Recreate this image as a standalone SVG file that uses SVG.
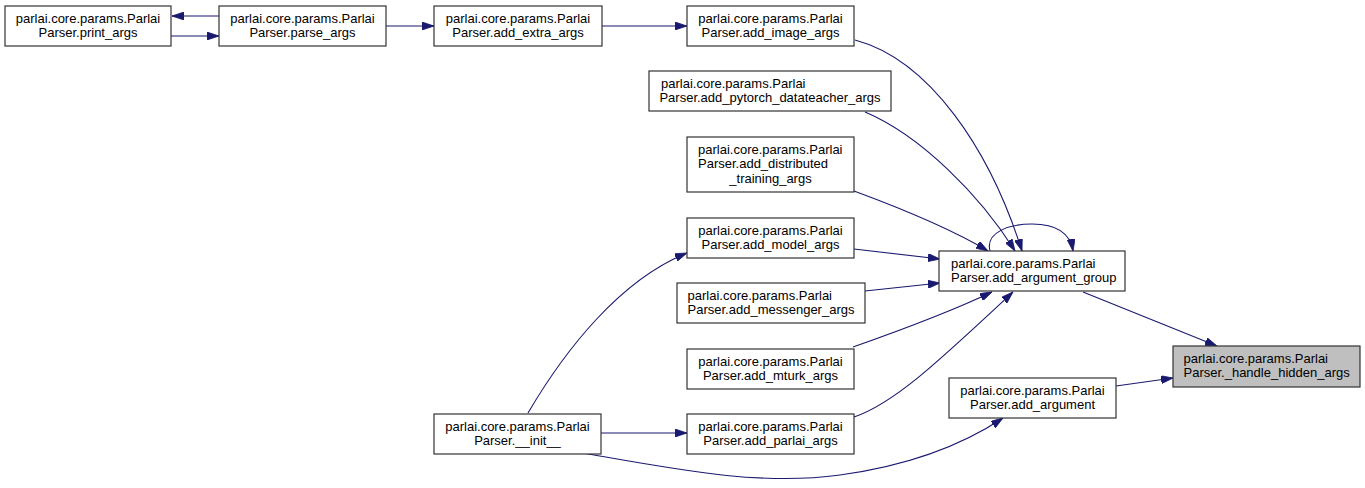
<svg xmlns="http://www.w3.org/2000/svg" width="1365" height="488" viewBox="0 0 1365 488">
<style>
.n rect{fill:#ffffff;stroke:#333333;stroke-width:1.2}
.n.hl rect{fill:#bfbfbf}
.n text{font-family:"Liberation Sans",Arial,Helvetica,sans-serif;font-size:13px;fill:#000000}
.c{text-anchor:middle}
.e path{fill:none;stroke:#191970;stroke-width:1.1;marker-end:url(#ah)}
</style>
<defs>
<marker id="ah" viewBox="0 0 12 8" refX="12" refY="4" markerWidth="12" markerHeight="8" markerUnits="userSpaceOnUse" orient="auto">
<path d="M0,0 L12,4 L0,8 z" fill="#191970" stroke="#191970" stroke-width="0.8"/>
</marker>
</defs>
<rect width="1365" height="488" fill="#ffffff"/>
<g class="e" id="connectors">
<path d="M219,16 L172,16"/>
<path d="M171,36 L219,36"/>
<path d="M386,26 L434,26"/>
<path d="M602,26 L687,26"/>
<path d="M855,40 C930,60 990,150 1022,251"/>
<path d="M865,112 C920,135 980,195 1015,251"/>
<path d="M854,191 C900,208 950,228 988,251"/>
<path d="M854,249 L940,259"/>
<path d="M865,291 L940,283"/>
<path d="M853,347 C890,334 950,312 992,292"/>
<path d="M854,417 C895,403 940,360 1013,292"/>
<path d="M990,251 C985,232 1010,224 1032,224 C1055,224 1070,232 1073,251"/>
<path d="M1083,292 L1217,346"/>
<path d="M1116,386 L1173,378"/>
<path d="M601,433 L687,433"/>
<path d="M528,413 C565,350 620,280 687,253"/>
<path d="M583,453 C680,470 760,486 840,475 C920,464 970,440 1003,418"/>
</g>
<g class="n" id="print_args"><rect x="5" y="6" width="166" height="40"/><text class="c" x="88" y="22.5">parlai.core.params.Parlai</text><text class="c" x="88" y="37">Parser.print_args</text></g>
<g class="n" id="parse_args"><rect x="219" y="6" width="167" height="40"/><text class="c" x="302.5" y="22.5">parlai.core.params.Parlai</text><text class="c" x="302.5" y="37">Parser.parse_args</text></g>
<g class="n" id="add_extra_args"><rect x="434" y="6" width="168" height="40"/><text class="c" x="518" y="22.5">parlai.core.params.Parlai</text><text class="c" x="518" y="37">Parser.add_extra_args</text></g>
<g class="n" id="add_image_args"><rect x="687" y="6" width="167" height="40"/><text class="c" x="770.5" y="22.5">parlai.core.params.Parlai</text><text class="c" x="770.5" y="37">Parser.add_image_args</text></g>
<g class="n" id="add_pytorch_datateacher_args"><rect x="649" y="71" width="242" height="40"/><text x="661" y="87.5">parlai.core.params.Parlai</text><text class="c" x="770" y="102">Parser.add_pytorch_datateacher_args</text></g>
<g class="n" id="add_distributed_training_args"><rect x="687" y="137" width="167" height="55"/><text x="698" y="153.5">parlai.core.params.Parlai</text><text x="698" y="168">Parser.add_distributed</text><text class="c" x="770.5" y="183">_training_args</text></g>
<g class="n" id="add_model_args"><rect x="687" y="218" width="167" height="40"/><text class="c" x="770.5" y="234.5">parlai.core.params.Parlai</text><text class="c" x="770.5" y="249">Parser.add_model_args</text></g>
<g class="n" id="add_messenger_args"><rect x="677" y="283" width="188" height="40"/><text x="687.5" y="299.5">parlai.core.params.Parlai</text><text class="c" x="771" y="314">Parser.add_messenger_args</text></g>
<g class="n" id="add_mturk_args"><rect x="687" y="349" width="167" height="40"/><text class="c" x="770.5" y="365.5">parlai.core.params.Parlai</text><text class="c" x="770.5" y="380">Parser.add_mturk_args</text></g>
<g class="n" id="add_parlai_args"><rect x="687" y="414" width="167" height="40"/><text class="c" x="770.5" y="430.5">parlai.core.params.Parlai</text><text class="c" x="770.5" y="445">Parser.add_parlai_args</text></g>
<g class="n" id="init"><rect x="434" y="414" width="167" height="40"/><text class="c" x="517.5" y="430.5">parlai.core.params.Parlai</text><text class="c" x="517.5" y="445">Parser.__init__</text></g>
<g class="n" id="add_argument_group"><rect x="939" y="251" width="186" height="40"/><text x="951" y="267.5">parlai.core.params.Parlai</text><text x="951" y="282">Parser.add_argument_group</text></g>
<g class="n" id="add_argument"><rect x="949" y="378" width="167" height="40"/><text class="c" x="1032.5" y="394.5">parlai.core.params.Parlai</text><text class="c" x="1032.5" y="409">Parser.add_argument</text></g>
<g class="n hl" id="handle_hidden_args"><rect x="1173" y="346" width="187" height="41"/><text x="1183.5" y="362.5">parlai.core.params.Parlai</text><text x="1183.5" y="377">Parser._handle_hidden_args</text></g>
</svg>
